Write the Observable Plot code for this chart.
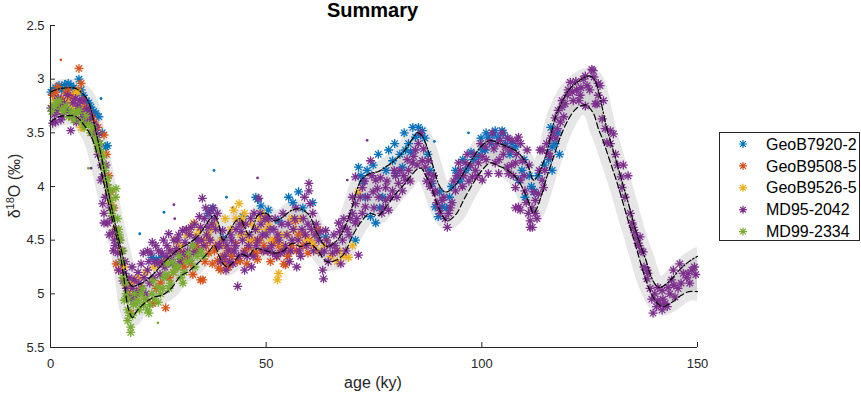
<!DOCTYPE html>
<html><head><meta charset="utf-8">
<script src="https://cdn.jsdelivr.net/npm/d3@7"></script>
<script src="https://cdn.jsdelivr.net/npm/@observablehq/plot@0.6"></script>
<style>body{margin:0;background:#fff;} #chart{width:861px;height:393px;}</style>
</head><body><div id="chart"></div>
<script>
// ---- data ----
const ages  = [0,2,4,6,8,9,10,11,12,13,14,15,16,17,18,19,20,22,24,26,28,30,32,34,36,37,38,39,40,41,42,43,44,45,46,47,48,50,52,54,56,58,60,62,64,66,68,70,72,74,76,78,80,82,84,85,86,87,88,89,90,91,92,94,96,98,100,102,104,106,108,110,111,112,113,114,115,116,117,118,120,122,124,125,126,127,128,129,130,131,132,133,134,135,136,137,138,139,140,141,142,144,146,148,150];
const upper = [3.12,3.09,3.08,3.09,3.16,3.23,3.39,3.57,3.76,3.97,4.16,4.35,4.52,4.69,4.88,4.93,4.92,4.88,4.81,4.72,4.64,4.58,4.53,4.47,4.36,4.30,4.27,4.35,4.50,4.45,4.38,4.32,4.30,4.38,4.45,4.38,4.27,4.25,4.32,4.28,4.22,4.21,4.27,4.45,4.56,4.52,4.40,4.18,3.94,3.88,3.86,3.81,3.75,3.67,3.55,3.50,3.52,3.60,3.72,3.85,3.98,4.04,4.05,3.98,3.86,3.73,3.62,3.57,3.60,3.63,3.67,3.76,3.84,3.94,3.90,3.80,3.69,3.52,3.36,3.26,3.11,3.03,2.98,2.97,3.00,3.10,3.28,3.46,3.60,3.74,3.88,4.02,4.16,4.31,4.45,4.57,4.68,4.81,4.90,4.94,4.93,4.86,4.77,4.70,4.65];
const lower = [3.40,3.35,3.34,3.35,3.44,3.50,3.59,3.73,3.90,4.08,4.25,4.42,4.59,4.85,5.13,5.22,5.16,5.08,5.03,5.01,4.95,4.84,4.79,4.72,4.64,4.59,4.55,4.64,4.72,4.75,4.72,4.68,4.63,4.64,4.65,4.59,4.58,4.60,4.62,4.60,4.53,4.56,4.53,4.60,4.70,4.69,4.63,4.46,4.33,4.25,4.27,4.18,4.07,3.98,3.88,3.84,3.83,3.90,3.97,4.09,4.20,4.28,4.32,4.26,4.11,3.97,3.85,3.78,3.81,3.85,3.92,4.06,4.16,4.25,4.18,4.06,3.92,3.80,3.68,3.56,3.38,3.27,3.24,3.27,3.33,3.46,3.56,3.68,3.80,3.92,4.05,4.19,4.33,4.46,4.60,4.74,4.87,4.97,5.05,5.10,5.12,5.08,5.02,4.98,4.98];

const seriesNames  = ["GeoB7920-2","GeoB9508-5","GeoB9526-5","MD95-2042","MD99-2334"];
const seriesColors = ["#0072BD","#D95319","#EDB120","#7E2F8E","#77AC30"];

const geoB7920 = [[0.1,3.12],[0.6,3.1],[1.2,3.08],[2.0,3.06],[2.6,3.1],[3.3,3.05],[4.1,3.04],[4.7,3.06],[5.4,3.08],[6.0,3.12],[6.6,3.0],[7.1,3.1],[7.6,3.15],[8.3,3.2],[8.9,3.22],[9.4,3.26],[10.0,3.3],[10.5,3.32],[11.2,3.35],[12.0,3.5],[12.8,3.63],[13.2,3.62],[18.6,4.93],
 [23.5,4.66],[24.5,4.68],[25.6,4.66],[26.5,4.7],[36.5,4.25],[37.2,4.22],[37.6,4.2],[40,4.48],[44.6,4.28],[47.6,4.1],[48,4.12],[48.8,4.18],[50.5,4.22],[52.9,4.32],[55.2,4.1],[56.2,4.15],[57.5,4.05],[58.5,4.2],[60.8,4.15],[62,4.45],[63.8,4.47],
 [70.7,4.5],[71.4,3.82],[72,3.9],[72.5,3.95],[73.4,3.85],[73,4.1],[74.2,4.28],[74.8,3.8],[75.4,4.34],[76,3.7],[76.3,4.2],[77,4.1],[77.8,3.85],[78.4,3.66],[79.3,3.76],[79.8,3.6],[80,3.88],[81,3.7],[81.6,3.82],[82,3.5],[82.3,3.66],[83,3.6],[83.5,3.68],[84,3.45],[84.6,3.54],[85.3,3.45],[85.8,3.52],[86.2,3.48],[86.8,3.55],[87.5,3.7],[88,3.85],[88.5,3.97],[89.2,4.19],[89.9,4.28],[90.2,4.05],[90.8,4.19],[91.8,4.2],[92.5,4.1],[93,4.0],[93.9,3.85],[94.5,3.9],[95,3.95],[95.6,3.75],[96.2,3.85],[96.9,3.82],[97.5,3.68],[98,3.75],[99.2,3.72],[99.8,3.55],[100.1,3.66],[100.8,3.66],[101,3.5],[101.5,3.54],[102.3,3.6],[102.8,3.52],[103.1,3.48],[103.8,3.55],[104.7,3.48],[105,3.5],[105.5,3.6],[106,3.55],[106.5,3.7],[107,3.6],[107.8,3.63],[108.5,3.94],[109.3,3.85],[109.8,3.75],[110,4.1],[111,3.9],[111.5,4.0],[112.2,4.05],[113,3.9],[114.5,3.8],[115.5,3.75],[116,3.45],[116.3,3.63],[116.3,3.85],[117,3.6],[117.6,3.5],[118,3.7]];
const geoB9508 = [[0.5,3.15],[1.2,3.12],[1.7,3.07],[2.5,3.18],[3.0,3.2],[3.6,3.13],[4.0,3.1],[4.6,3.18],[5.2,3.15],[5.9,3.38],[6.4,3.1],[6.6,2.9],[7.1,3.04],[7.5,3.2],[7.8,3.29],[8.2,3.26],[8.8,3.3],[9.5,3.35],[10.2,3.4],[11,3.45],[12.4,3.52],[13,3.7],[13.5,3.9],[14,4.05],[14.7,4.2],[15.2,4.72],[15.6,4.47],[15.8,4.78],[16.2,4.6],[16.8,4.72],[17.5,4.92],[18,5.0],[18.6,5.18],[19.1,4.87],[20,5.0],[21,4.95],[22,5.05],[23.7,5.09],[24.5,4.95],[25.5,4.9],[26.7,5.13],[27.5,4.85],[28.5,4.8],[29.5,4.75],[30,4.6],[30.5,4.7],[31,4.75],[31.5,4.65],[32.5,4.72],[33,4.82],[33.5,4.6],[34,4.55],[34.8,4.87],[35.3,4.87],[35.8,4.7],[36,4.55],[36.7,4.62],[37,4.5],[37.5,4.72],[38,4.6],[38.3,4.55],[38.7,4.69],[39,4.76],[39.5,4.78],[40,4.65],[40.5,4.7],[41.3,4.75],[41.8,4.6],[42,4.65],[42.9,4.53],[43.3,4.7],[44,4.69],[44.5,4.35],[45,4.6],[45.5,4.72],[46,4.57],[46.7,4.5],[47.2,4.62],[47.6,4.62],[48,4.68],[48.5,4.5],[49,4.6],[49.5,4.55],[50,4.3],[50.5,4.6],[51,4.7],[51.5,4.53],[52,4.5],[52.5,4.65],[53,4.55],[53.5,4.6],[54.1,4.72],[54.5,4.73],[55,4.65],[55.5,4.6],[56,4.55],[56.8,4.32],[57,4.6],[57.5,4.45],[58.5,4.55],[59,4.45],[59.7,4.62],[60,4.5],[61,4.55],[62,4.4]];
const geoB9526 = [[0.5,3.25],[1.2,3.2],[2.0,3.25],[2.7,3.3],[3.2,3.26],[3.8,3.2],[4.7,3.23],[5.3,3.28],[5.9,3.13],[5.9,3.32],[6.3,3.12],[6.8,3.25],[7.1,3.45],[7.5,3.45],[7.8,3.32],[8.5,3.35],[9.2,3.42],[10,3.5],[11,3.6],[12,3.7],[13,3.95],[14,4.15],[15,4.4],[16,4.6],[17,4.75],[18,4.95],[19,4.9],[20.5,4.85],[22,4.8],[24,4.75],[26,4.7],[28,4.6],[29,4.5],[30,4.55],[31.5,4.45],[32,4.4],[33.2,4.34],[33.8,4.45],[34.5,4.4],[35.5,4.5],[36.5,4.45],[37.2,4.4],[38,4.35],[39.5,4.5],[40,4.55],[40.5,4.3],[41,4.6],[41.8,4.4],[42.5,4.22],[43,4.3],[43.7,4.16],[44,4.45],[44.5,4.3],[45,4.25],[45.5,4.45],[46,4.5],[46.5,4.35],[47.5,4.5],[48,4.4],[48.6,4.3],[49.1,4.25],[50,4.4],[50.5,4.35],[51,4.5],[52.6,4.87],[52.9,4.81],[53.5,4.45],[54,4.55],[55,4.45],[55.8,4.3],[56.5,4.4],[57.5,4.5],[58,4.3],[59.5,4.5],[60.8,4.53],[61.5,4.45],[62,4.6],[63.5,4.55],[64,4.5],[65,4.65],[66.5,4.7],[67,4.6],[68,4.65],[69.1,4.66],[70,4.55],[71.4,4.05]];
const md95 = [[0.1,3.27],[0.5,3.41],[0.9,3.33],[1.2,3.4],[1.5,3.3],[1.8,3.18],[2.1,3.25],[2.4,3.38],[2.7,3.35],[3,3.3],[3.2,3.22],[3.6,3.29],[4,3.15],[4.2,3.3],[4.7,3.48],[5,3.35],[5.2,3.22],[5.8,3.18],[6,3.4],[6.4,3.25],[6.8,3.2],[7,3.3],[7.5,3.35],[7.8,3.2],[8,3.4],[8.4,3.28],[8.7,3.3],[9,3.38],[9.4,3.34],[9.7,3.5],[10,3.42],[10.5,3.45],[10.9,3.52],[11,3.7],[11.3,3.6],[11.7,3.94],[11.8,3.8],[12.1,3.91],[12.1,4.16],[12.4,4.25],[12.4,4.34],[12.7,4.1],[12.9,3.8],[13.3,4.01],[13.3,4.34],[13.6,4.45],[13.8,4.2],[14.1,4.3],[14.4,4.43],[14.6,4.6],[14.8,4.5],[15,4.55],[15.2,4.4],[15.6,4.62],[15.8,4.78],[16,4.5],[16.3,4.7],[16.6,4.6],[16.8,4.88],[17.1,4.81],[17.3,4.7],[17.6,4.95],[17.8,5.02],[18.2,4.85],[18.6,5.05],[18.9,4.75],[19,4.95],[19.4,4.87],[19.7,5.02],[20,4.98],[20.3,4.8],[20.5,4.9],[21,4.72],[21.2,4.95],[21.5,4.62],[21.7,4.85],[22.1,5.0],[22.5,4.78],[22.5,4.6],[22.8,4.7],[23,4.9],[23.3,4.62],[23.6,4.52],[23.9,4.85],[24.1,4.7],[24.4,4.55],[24.9,4.72],[25.1,4.6],[25.4,4.82],[25.7,4.7],[25.9,4.62],[26.2,4.5],[26.5,4.75],[26.8,4.65],[27,4.55],[27.4,4.44],[27.7,4.6],[28,4.68],[28.3,4.72],[28.6,4.5],[28.9,4.62],[29.2,4.58],[29.5,4.5],[29.7,4.45],[30,4.7],[30.2,4.65],[30.6,4.41],[30.9,4.62],[31.2,4.52],[31.5,4.4],[31.8,4.6],[32,4.68],[32.3,4.45],[32.6,4.38],[32.9,4.55],[33.1,4.62],[33.4,4.35],[33.7,4.48],[34,4.5],[34.3,4.6],[34.5,4.28],[34.8,4.38],[35,4.5],[35.2,4.11],[35.5,4.55],[35.7,4.3],[36,4.2],[36.2,4.45],[36.5,4.38],[36.8,4.25],[37,4.5],[37.4,4.35],[37.7,4.2],[38,4.3],[38.3,4.4],[38.7,4.25],[38.9,4.55],[39.2,4.55],[39.5,4.7],[39.9,4.41],[40.1,4.5],[40.4,4.65],[40.7,4.78],[40.9,4.55],[41.2,4.6],[41.5,4.7],[41.8,4.45],[42,4.5],[42.3,4.72],[42.6,4.6],[42.9,4.55],[43,4.4],[43.4,4.93],[43.6,4.65],[43.9,4.35],[44.2,4.42],[44.5,4.5],[44.8,4.62],[45,4.78],[45.3,4.35],[45.6,4.65],[45.9,4.55],[46.1,4.45],[46.4,4.3],[46.6,4.75],[47,4.65],[47.2,4.25],[47.5,4.4],[47.7,4.55],[48,4.5],[48.3,4.11],[48.6,4.25],[48.8,4.35],[49.1,4.45],[49.4,4.6],[49.7,4.3],[50,4.45],[50.3,4.6],[50.6,4.3],[50.9,4.4],[51.2,4.55],[51.5,4.62],[51.8,4.4],[52.1,4.3],[52.4,4.65],[52.7,4.45],[53,4.5],[53.3,4.62],[53.6,4.35],[53.9,4.25],[54.2,4.6],[54.5,4.55],[54.8,4.45],[55.1,4.35],[55.4,4.7],[55.7,4.6],[56,4.5],[56.3,4.4],[56.6,4.3],[56.9,4.2],[57.1,4.75],[57.4,4.5],[57.7,4.6],[58,4.65],[58.3,4.4],[58.6,4.3],[58.9,4.1],[59.1,4.45],[59.4,4.55],[59.7,4.35],[59.9,3.97],[59.9,4.04],[60.2,4.16],[60.5,4.4],[60.8,4.25],[61,4.6],[61.3,4.45],[61.6,4.35],[62.2,4.5],[62.5,4.42],[62.8,4.62],[63.1,4.78],[63.3,4.86],[63.5,4.6],[63.8,4.41],[64,4.5],[64.4,4.7],[64.8,4.55],[65.4,4.62],[65.7,4.45],[66,4.55],[66.4,4.6],[66.8,4.34],[67,4.42],[67.3,4.72],[67.7,4.5],[67.7,4.38],[68,4.3],[68.5,4.6],[68.8,4.4],[69.2,4.45],[69.5,4.3],[70,4.25],[70,4.1],[70.7,4.34],[70.7,4.16],[70.7,3.91],[71,4.3],[71.4,4.64],[71.8,4.1],[72.3,4.01],[72.3,4.25],[72.8,3.95],[73,4.19],[73.5,4.1],[74.2,3.76],[74.5,3.9],[74.8,4.05],[75,4.2],[75.4,3.94],[75.8,4.02],[76.1,4.1],[76.5,3.92],[76.8,4.25],[77.2,4.2],[77.7,4.01],[77.7,4.13],[78,3.95],[78.4,4.22],[78.8,4.1],[79.3,4.04],[79.7,3.85],[80,3.9],[80.3,4.1],[80.7,3.97],[81,3.85],[81.6,4.04],[81.9,3.9],[82.3,3.94],[82.7,3.75],[83,3.85],[83.4,3.95],[83.9,3.78],[84.2,3.72],[84.6,3.66],[85,3.8],[85.3,3.6],[85.8,3.5],[86.2,3.76],[86.5,3.65],[86.9,3.82],[87.2,3.95],[87.6,3.76],[87.6,3.88],[88,4.0],[88.3,3.95],[88.8,3.9],[89.2,4.04],[89.2,4.06],[89.6,4.15],[90.1,4.2],[90.4,4.25],[90.8,4.13],[91.2,4.1],[91.5,4.3],[92,4.38],[92.3,4.25],[92.7,4.2],[93.1,4.15],[93.5,3.95],[93.9,4.04],[94.2,3.9],[94.6,3.78],[95,3.85],[95.5,4.0],[95.8,3.9],[96.2,3.78],[96.6,3.7],[97,3.95],[97.4,3.8],[97.8,3.91],[98.2,3.7],[98.5,3.85],[99,3.9],[99.2,3.78],[99.7,3.6],[100.1,3.72],[100.1,3.94],[100.8,3.63],[101,3.75],[101.5,3.88],[101.8,3.58],[102.4,3.5],[102.8,3.65],[103.1,3.78],[103.5,3.6],[103.9,3.88],[104,3.75],[104.3,3.57],[104.7,3.5],[105,3.7],[105.4,3.63],[105.9,3.82],[106,3.55],[106.2,3.88],[106.6,3.66],[106.9,3.8],[107,3.57],[107.3,3.9],[107.8,3.78],[107.8,4.01],[107.8,4.2],[108,3.7],[108.2,3.57],[108.5,3.54],[108.5,4.19],[108.9,3.94],[108.9,4.22],[109,3.6],[109.4,3.76],[109.8,3.9],[110,4.04],[110.3,4.15],[110.5,3.66],[110.8,4.25],[111,3.8],[111.2,4.32],[111.2,4.38],[111.6,4.2],[111.7,4.38],[112,4.05],[112.4,4.25],[112.4,4.13],[112.8,4.3],[113.1,4.07],[113.3,3.85],[113.5,3.66],[114,3.94],[114,3.66],[114.3,4.01],[114.6,3.85],[115,3.6],[115.4,3.69],[115.8,3.72],[116,3.55],[116.5,3.5],[117,3.36],[117.2,3.55],[117.5,3.46],[117.7,3.29],[118.2,3.4],[118.6,3.2],[118.6,3.26],[119,3.35],[119.3,3.23],[119.8,3.15],[120,3.1],[120.5,3.03],[121,3.12],[121.2,3.2],[121.8,3.02],[122,3.1],[122.5,3.2],[122.8,3.15],[123,3.08],[123.5,3.0],[124,2.97],[124,3.25],[124.4,3.06],[125,3.1],[125.5,2.91],[125.8,2.92],[126,2.98],[126.3,3.23],[126.7,3.23],[127,3.04],[127,3.15],[127.4,3.06],[127.9,3.37],[128.2,3.2],[128.6,3.46],[129,3.59],[129.8,3.48],[129.8,3.6],[130.5,3.51],[131,3.7],[131.5,3.8],[132.3,3.91],[132.5,4.01],[132.8,3.8],[133.2,4.1],[133.9,3.9],[134.4,4.25],[134.8,4.34],[135.1,4.38],[135.5,4.43],[136,4.48],[136.2,4.53],[136.5,4.55],[136.7,4.47],[137,4.6],[137.4,4.61],[137.6,4.75],[138.3,4.78],[138.3,4.86],[138.5,4.81],[139,4.95],[139.4,5.05],[139.7,5.18],[140.1,5.0],[140.5,5.12],[140.8,5.06],[140.8,4.94],[141.4,5.1],[141.8,5.15],[141.8,4.97],[142,5.05],[142.5,5.09],[143,5.12],[143.2,4.94],[143.6,5.0],[144,4.87],[144.4,4.78],[144.5,4.92],[144.8,5.03],[145.5,4.95],[145.9,4.72],[146.2,4.9],[146.7,4.81],[147.5,4.85],[147.8,4.81],[148.2,4.9],[148.7,4.78],[149.3,4.75],[149.6,4.82]];
const md99 = [[0.3,3.3],[0.8,3.25],[1.4,3.22],[2,3.2],[2.6,3.28],[3.1,3.3],[3.6,3.25],[4.2,3.35],[4.8,3.3],[5.4,3.38],[6,3.32],[6.6,3.29],[7.2,3.4],[7.8,3.45],[8.2,3.34],[8.8,3.42],[9.3,3.5],[9.8,3.45],[10.4,3.55],[10.8,3.6],[11,3.65],[11.5,3.6],[11.8,3.68],[12.1,3.73],[12.3,3.8],[12.6,3.85],[13,3.95],[13.2,3.92],[13.5,4.01],[13.8,4.05],[14,4.13],[14.2,4.25],[14.5,4.2],[15,4.3],[15.1,4.1],[15.2,4.02],[15.5,4.3],[15.8,4.4],[16,4.45],[16.2,4.5],[16.5,4.7],[16.8,4.6],[16.8,4.85],[17.1,5.06],[17.3,4.9],[17.5,5.0],[17.9,5.15],[17.9,5.25],[18,5.05],[18.3,5.2],[18.6,5.31],[18.6,5.36],[19,5.2],[19.2,5.1],[19.5,5.0],[19.8,5.09],[20.2,5.06],[20.6,5.15],[21,5.0],[21.3,4.95],[21.6,5.1],[22,5.05],[22.5,5.15],[22.8,5.18],[23,5.1],[23.5,5.0],[23.8,4.88],[24.2,5.05],[24.9,4.94],[25,5.08],[25.5,5.0],[26,4.95],[26.3,4.85],[26.8,4.82],[27.1,4.72],[27.5,4.95],[27.8,4.9],[28.2,4.7],[28.5,4.8],[29.1,4.75],[29.5,4.75],[29.8,4.65],[30.2,4.85],[30.7,4.9],[31,4.8],[31.5,4.7],[32,4.62],[32.5,4.69],[33,4.55],[33.5,4.75],[34,4.65],[34.8,4.6],[35.5,4.65]];
const starSeries = [geoB7920, geoB9508, geoB9526, md95, md99];

// single '.' points
const geoB7920Dots = [[11.7,3.18],[20.7,4.44],[26.3,4.24],[37.9,3.85],[40.8,4.1],[89,3.58],[96.9,3.5]];
const geoB9508Dots = [[2.4,2.82]];
const geoB9526Dots = [];
const md95Dots = [[9.4,3.83],[28.6,4.17],[28.8,4.3],[42.2,4.2],[48,3.92],[68.8,3.94],[73.4,3.57]];
const md99Dots = [[8.8,3.83],[24.9,5.27]];
const dotSeries = [geoB7920Dots, geoB9508Dots, geoB9526Dots, md95Dots, md99Dots];

const xTicks = [0,50,100,150];
const yTicks = [2.5,3,3.5,4,4.5,5,5.5];

// ---- build tables ----
const band = ages.map((a,i)=>({age:a, upper:upper[i], lower:lower[i]}));
const stars = starSeries.flatMap((arr,k)=>arr.map(([age,v])=>({age, v, s:seriesNames[k]})));
const dots = dotSeries.flatMap((arr,k)=>arr.map(([age,v])=>({age, v, s:seriesNames[k]})));

const starSym = {draw(ctx, size){
  const r = Math.sqrt(size/Math.PI), d = r*Math.SQRT1_2;
  ctx.moveTo(-r,0); ctx.lineTo(r,0);
  ctx.moveTo(0,-r); ctx.lineTo(0,r);
  ctx.moveTo(-d,-d); ctx.lineTo(d,d);
  ctx.moveTo(-d,d); ctx.lineTo(d,-d);
}};
const curve = "catmull-rom";
const ink = "#262626";

const svgEl = Plot.plot({
  width: 861, height: 393,
  marginLeft: 50, marginRight: 164, marginTop: 25, marginBottom: 46,
  x: {domain: [0,150]},
  y: {domain: [2.5,5.5], reverse: true},
  color: {domain: seriesNames, range: seriesColors},
  style: {fontFamily: "'Liberation Sans', Arial, sans-serif", fontSize: "13px", color: ink, background: "white", overflow: "visible"},
  marks: [
    Plot.areaY(band, {x:"age", y1:"upper", y2:"lower", fill:"#e6e6e6", curve, clip:true}),
    Plot.line(band, {x:"age", y:"upper", stroke:"#e6e6e6", strokeWidth:18, strokeLinejoin:"round", curve, clip:true}),
    Plot.line(band, {x:"age", y:"lower", stroke:"#e6e6e6", strokeWidth:18, strokeLinejoin:"round", curve, clip:true}),
    Plot.areaY(band, {x:"age", y1:"upper", y2:"lower", fill:"#d2d2d2", curve, clip:true}),
    Plot.dot(dots, {x:"age", y:"v", fill:"s", r:1.4}),
    Plot.dot(stars, {x:"age", y:"v", stroke:"s", fill:"none", symbol:starSym, r:4.5, strokeWidth:1.3}),
    Plot.line(band, {x:"age", y:"upper", stroke:"black", strokeWidth:1.2, strokeDasharray:"6,2,1.5,2", curve}),
    Plot.line(band, {x:"age", y:"lower", stroke:"black", strokeWidth:1.2, strokeDasharray:"6,3", curve}),
    Plot.ruleX([0], {stroke: ink}),
    Plot.ruleY([5.5], {stroke: ink}),
    Plot.axisX({ticks: xTicks, tickSize: -5, tickPadding: 16, tickFormat: d=>`${d}`, label: null, fontSize: 13}),
    Plot.axisY({ticks: yTicks, tickSize: -5, tickPadding: 11, tickFormat: d=>`${d}`, label: null, fontSize: 13})
  ]
});

const svg = d3.select(svgEl);
const F = "'Liberation Sans', Arial, sans-serif";
svg.append("text").attr("x",372.5).attr("y",17).attr("text-anchor","middle")
  .attr("font-family",F).attr("font-size",20).attr("font-weight","bold").attr("fill","black").text("Summary");
svg.append("text").attr("x",373).attr("y",388).attr("text-anchor","middle")
  .attr("font-family",F).attr("font-size",16).attr("fill",ink).text("age (ky)");
const yl = svg.append("text").attr("transform","translate(20,186) rotate(-90)").attr("text-anchor","middle")
  .attr("font-family",F).attr("font-size",16).attr("fill",ink);
yl.append("tspan").text("δ");
yl.append("tspan").attr("dy",-6).attr("font-size",11).text("18");
yl.append("tspan").attr("dy",6).text("O (‰)");

// legend
const lg = svg.append("g").attr("text-anchor","start");
lg.append("rect").attr("x",719.5).attr("y",132.5).attr("width",140).attr("height",108)
  .attr("fill","white").attr("stroke",ink).attr("stroke-width",1);
const starPath = d3.symbol(starSym, 4*4*Math.PI)();
seriesNames.forEach((n,i)=>{
  const cy = 144 + i*21.9;
  lg.append("path").attr("transform",`translate(743,${cy})`).attr("d",starPath)
    .attr("fill","none").attr("stroke",seriesColors[i]).attr("stroke-width",1.2);
  lg.append("text").attr("x",766).attr("y",cy).attr("dy","0.35em").attr("text-anchor","start")
    .attr("font-family",F).attr("font-size",16).attr("fill","black").text(n);
});

document.getElementById("chart").appendChild(svgEl);
</script>
</body></html>
